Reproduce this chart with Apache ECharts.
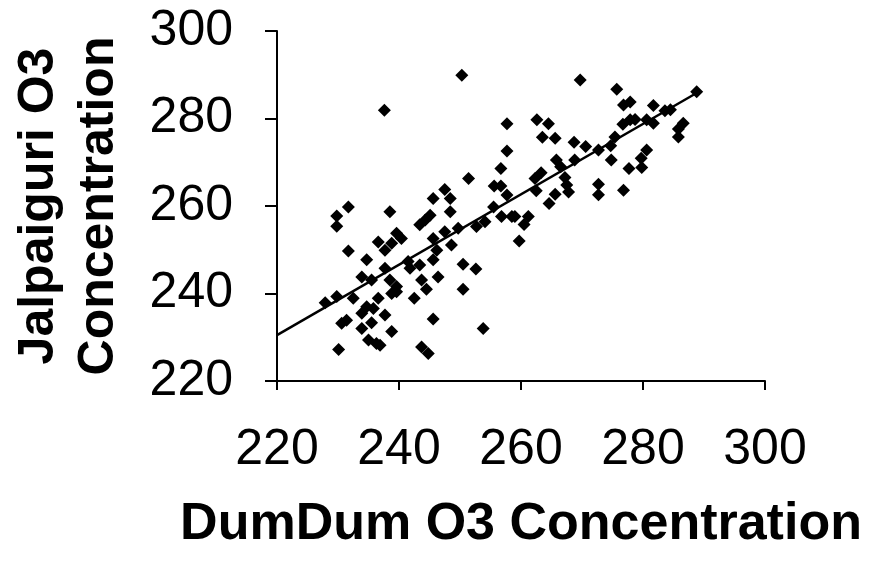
<!DOCTYPE html>
<html>
<head>
<meta charset="utf-8">
<script src="https://cdn.jsdelivr.net/npm/echarts@6/dist/echarts.min.js"></script>
<style>html,body{margin:0;padding:0;background:#fff;}#c{width:871px;height:561px;}</style>
</head>
<body>
<div id="c"></div>
<script>
var xTitle = 'DumDum O3 Concentration';
var yTitle = 'Jalpaiguri O3\nConcentration';
var xTicks = [220, 240, 260, 280, 300];
var yTicks = [220, 240, 260, 280, 300];

var dumdum = [
250.3,237.6,231.7,229.8,229.8,238.5,231.7,236.6,239.6,240.4,
238.8,237.7,234.7,241.5,237.7,241.8,233.9,235.5,238.5,239.6,
239.6,238.8,227.9,229.8,232.5,236.6,234.7,233.9,235.8,237.7,
231.4,230.6,233.9,235.5,238.8,235.0,236.3,236.9,230.1,242.5,
257.7,256.7,251.4,255.6,256.7,257.7,247.5,245.6,248.4,248.4,
245.1,243.4,244.3,255.5,256.8,258.5,252.7,254.1,249.7,247.5,
245.6,248.6,259.7,260.5,243.4,245.6,246.2,250.5,252.6,246.4,
243.7,244.5,250.5,245.6,253.8,243.7,244.8,259.0,261.2,257.7,
269.7,275.7,276.8,277.9,281.7,262.6,264.5,263.5,265.6,268.7,
270.6,276.7,277.9,278.7,280.6,281.7,283.6,284.5,288.8,286.6,
285.8,285.8,280.6,279.7,279.8,277.7,274.8,275.4,274.7,272.7,
268.8,265.8,266.5,263.3,262.3,262.5,267.2,267.5,267.8,265.6,
264.6,272.7,272.7,276.8
];
var jalpaiguri = [
289.9,281.9,259.8,257.7,255.4,258.7,249.7,251.8,253.8,252.6,
251.5,249.9,247.7,247.3,245.8,245.8,243.8,243.1,243.1,241.6,
240.4,240.0,237.9,239.3,238.9,238.9,237.0,235.5,236.6,235.1,
233.9,233.2,232.0,233.3,231.3,229.4,228.6,228.2,227.2,238.9,
272.6,268.6,266.3,264.6,264.6,262.5,263.8,261.7,261.7,258.7,
257.9,255.7,256.8,259.8,257.6,257.6,255.3,256.4,254.9,254.1,
252.6,251.1,252.0,255.8,246.5,247.7,249.9,246.7,245.6,243.8,
243.1,241.0,241.0,234.2,232.0,227.8,226.3,257.6,257.6,278.8,
288.8,286.7,283.1,283.8,283.0,279.7,278.8,275.7,275.5,274.6,
273.6,278.7,279.7,279.8,279.7,278.9,281.8,282.0,286.1,278.9,
277.6,275.8,272.8,270.9,268.8,268.6,270.5,275.8,273.8,272.8,
270.5,270.5,269.0,267.6,266.3,263.5,266.5,264.8,263.2,262.7,
260.6,265.0,262.6,263.6
];
var trendX = [220, 289];
var trendY = [230.5, 286];

var points = dumdum.map(function (x, i) { return [x, jalpaiguri[i]]; });
var trend = trendX.map(function (x, i) { return [x, trendY[i]]; });

var chart = echarts.init(document.getElementById('c'), null, {renderer: 'canvas'});
var axisFont = 'Liberation Sans, Arial, sans-serif';
chart.setOption({
  animation: false,
  backgroundColor: '#ffffff',
  grid: {left: 277, right: 106, top: 31, bottom: 180, containLabel: false},
  xAxis: {
    type: 'value', min: xTicks[0], max: xTicks[xTicks.length - 1], interval: 20,
    name: xTitle, nameLocation: 'middle', nameGap: 118,
    nameTextStyle: {fontFamily: axisFont, fontWeight: 'bold', fontSize: 52, color: '#000'},
    axisLine: {show: true, onZero: false, lineStyle: {color: '#000', width: 2}},
    axisTick: {show: true, inside: false, length: 9, lineStyle: {color: '#000', width: 2}},
    axisLabel: {fontFamily: axisFont, fontSize: 50, color: '#000', margin: 44},
    splitLine: {show: false}
  },
  yAxis: {
    type: 'value', min: yTicks[0], max: yTicks[yTicks.length - 1], interval: 20,
    name: yTitle, nameLocation: 'middle', nameGap: 148, nameRotate: 90,
    nameTextStyle: {fontFamily: axisFont, fontWeight: 'bold', fontSize: 50, color: '#000', lineHeight: 60},
    axisLine: {show: true, onZero: false, lineStyle: {color: '#000', width: 2}},
    axisTick: {show: true, inside: false, length: 12, lineStyle: {color: '#000', width: 2}},
    axisLabel: {fontFamily: axisFont, fontSize: 50, color: '#000', margin: 44},
    splitLine: {show: false}
  },
  series: [
    {
      type: 'scatter', data: points, symbol: 'diamond', symbolSize: 13,
      itemStyle: {color: '#000', opacity: 1}, z: 3
    },
    {
      type: 'line', data: trend, symbol: 'none', smooth: false,
      lineStyle: {color: '#000', width: 2.5}, z: 4
    }
  ]
});
</script>
</body>
</html>
